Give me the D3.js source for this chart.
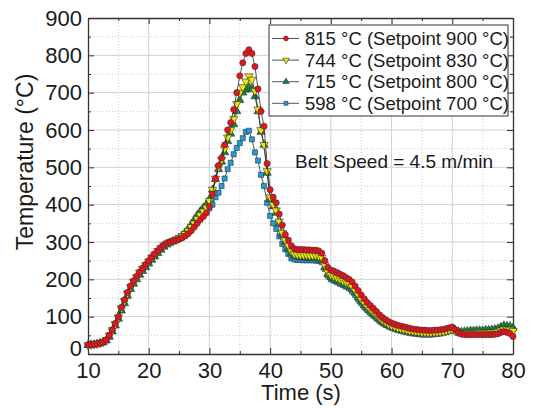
<!DOCTYPE html>
<html>
<head>
<meta charset="utf-8">
<script src="https://cdn.jsdelivr.net/npm/d3@7"></script>
<style>
  body { margin: 0; background: #fff; }
  text { font-family: "Liberation Sans", Arial, sans-serif; fill: #1a1a1a; }
</style>
</head>
<body>
<script>
// sample times (s)
var time = [10,10.5,11,11.5,12,12.5,13,13.5,14,14.5,15,15.5,16,16.5,17,17.5,18,18.5,19,19.5,
  20,20.5,21,21.5,22,22.5,23,23.5,24,24.5,25,25.5,26,26.5,27,27.5,28,28.5,29,29.5,
  30,30.5,31,31.5,32,32.5,33,33.5,34,34.5,35,35.5,36,36.5,37,37.5,38,38.5,39,39.5,
  40,40.5,41,41.5,42,42.5,43,43.5,44,44.5,45,45.5,46,46.5,47,47.5,48,48.5,49,49.5,
  50,50.5,51,51.5,52,52.5,53,53.5,54,54.5,55,55.5,56,56.5,57,57.5,58,58.5,59,59.5,
  60,60.5,61,61.5,62,62.5,63,63.5,64,64.5,65,65.5,66,66.5,67,67.5,68,68.5,69,69.5,
  70,70.5,71,71.5,72,72.5,73,73.5,74,74.5,75,75.5,76,76.5,77,77.5,78,78.5,79,79.5,80];

var t815 = [24,25,26,27,29,32,38,50,65,82,100,125,145,165,182,196,208,220,230,240,
  250,260,268,277,285,292,297,300,303,305,308,311,316,322,330,340,350,360,368,378,
  395,428,470,505,525,560,600,620,655,700,745,780,805,815,805,770,710,650,610,510,
  440,420,405,375,345,320,305,290,282,280,280,280,279,279,278,278,276,270,250,232,
  225,222,218,214,210,205,200,193,182,170,158,148,138,130,122,114,105,98,92,87,
  83,80,77,75,73,71,69,67,66,65,64,64,63,63,64,64,65,66,68,70,
  72,65,58,54,52,52,52,52,52,52,52,52,52,52,53,54,58,60,58,55,47];

var t744 = [24,25,26,27,29,32,38,50,64,80,98,122,142,162,180,194,206,218,228,238,
  248,258,267,276,284,291,296,300,303,306,310,315,322,330,340,350,362,372,382,392,
  410,440,470,500,520,550,580,600,630,670,700,715,730,744,735,705,655,600,560,490,
  420,400,385,355,325,305,290,275,268,266,265,265,265,264,264,264,262,258,238,220,
  212,208,204,200,196,192,188,180,170,158,146,136,127,119,112,105,97,90,85,80,
  76,73,70,68,66,64,62,61,60,59,58,58,57,57,58,58,59,60,62,64,
  66,62,58,56,56,56,56,56,56,57,57,57,57,58,58,60,63,66,66,65,62];

var t715 = [24,25,26,27,29,31,36,46,60,76,94,116,136,156,174,188,200,212,222,232,
  242,252,261,270,279,287,293,298,302,306,311,317,325,335,347,360,372,382,392,400,
  415,440,468,495,515,540,570,590,615,650,680,700,708,715,710,690,650,595,560,485,
  415,395,378,350,320,300,284,270,262,260,259,259,258,258,258,258,256,252,232,214,
  206,202,198,194,190,186,182,174,164,152,141,131,122,114,107,100,93,86,81,77,
  73,70,67,65,63,61,59,58,57,56,55,55,55,55,56,57,58,60,62,65,
  68,64,60,59,60,61,62,62,63,63,63,64,64,65,66,68,72,76,75,74,70];

var t598 = [24,25,26,27,29,32,37,48,62,79,97,120,140,160,178,192,204,216,226,236,
  246,256,265,274,282,290,295,299,302,305,309,314,320,328,337,347,357,366,374,382,
  390,400,420,432,450,470,495,512,535,552,565,578,595,598,575,540,518,480,450,405,
  370,350,335,315,295,280,268,256,253,252,252,251,251,251,251,250,249,246,228,210,
  200,196,192,188,184,180,176,168,158,146,136,126,118,110,103,96,89,83,78,74,
  70,67,64,62,60,58,56,55,54,53,52,52,52,52,53,54,55,57,59,62,
  65,61,57,56,56,57,58,58,59,59,60,60,61,62,63,65,68,70,70,69,66];

var labels = ["815 \u00b0C (Setpoint 900 \u00b0C)", "744 \u00b0C (Setpoint 830 \u00b0C)",
  "715 \u00b0C (Setpoint 800 \u00b0C)", "598 \u00b0C (Setpoint 700 \u00b0C)"];
var colors = ["#e8141c", "#f2e600", "#12873a", "#1a9ee0"];
var shapes = [d3.symbolCircle, d3.symbolTriangle, d3.symbolTriangle, d3.symbolSquare];
var sizes = [30, 30, 30, 26];
var rotations = [0, 180, 0, 0];
var seriesData = [t815, t744, t715, t598];

var xTicks = [10,20,30,40,50,60,70,80];
var xMinor = [15,25,35,45,55,65,75];
var yTicks = [0,100,200,300,400,500,600,700,800,900];
var yMinor = [50,150,250,350,450,550,650,750,850];

var W = 533, H = 408;
var x = d3.scaleLinear().domain([10, 80]).range([88, 513]);
var y = d3.scaleLinear().domain([0, 900]).range([354, 18]);

var svg = d3.select("body").append("svg")
    .attr("width", W)
    .attr("height", H);

// grid
svg.append("g").selectAll("line")
    .data(xMinor).enter().append("line")
    .attr("x1", function (d) { return x(d) }).attr("x2", function (d) { return x(d) })
    .attr("y1", y(0)).attr("y2", y(900))
    .style("stroke", "#bdbdbd").style("stroke-width", 0.8).style("stroke-dasharray", "1,2");
svg.append("g").selectAll("line")
    .data(yMinor).enter().append("line")
    .attr("x1", x(10)).attr("x2", x(80))
    .attr("y1", function (d) { return y(d) }).attr("y2", function (d) { return y(d) })
    .style("stroke", "#bdbdbd").style("stroke-width", 0.8).style("stroke-dasharray", "1,2");
svg.append("g").selectAll("line")
    .data(xTicks.slice(1, -1)).enter().append("line")
    .attr("x1", function (d) { return x(d) }).attr("x2", function (d) { return x(d) })
    .attr("y1", y(0)).attr("y2", y(900))
    .style("stroke", "#d0d0d0").style("stroke-width", 1);
svg.append("g").selectAll("line")
    .data(yTicks.slice(1, -1)).enter().append("line")
    .attr("x1", x(10)).attr("x2", x(80))
    .attr("y1", function (d) { return y(d) }).attr("y2", function (d) { return y(d) })
    .style("stroke", "#d0d0d0").style("stroke-width", 1);

// axes, ticks inward on all four sides
function styleAxis(g) {
    g.selectAll("path").style("stroke", "#333").style("stroke-width", 1.3);
    g.selectAll("line").style("stroke", "#333").style("stroke-width", 1);
    g.selectAll("text").style("font-size", "22px").style("fill", "#1a1a1a")
        .style("font-family", '"Liberation Sans", Arial, sans-serif');
}
svg.append("g").attr("transform", "translate(0," + y(0) + ")")
    .call(d3.axisBottom(x).tickValues(xMinor).tickSize(-3).tickFormat(""))
    .call(styleAxis).select("path").remove();
svg.append("g").attr("transform", "translate(0," + y(900) + ")")
    .call(d3.axisTop(x).tickValues(xMinor).tickSize(-3).tickFormat(""))
    .call(styleAxis).select("path").remove();
svg.append("g").attr("transform", "translate(" + x(10) + ",0)")
    .call(d3.axisLeft(y).tickValues(yMinor).tickSize(-3).tickFormat(""))
    .call(styleAxis).select("path").remove();
svg.append("g").attr("transform", "translate(" + x(80) + ",0)")
    .call(d3.axisRight(y).tickValues(yMinor).tickSize(-3).tickFormat(""))
    .call(styleAxis).select("path").remove();

svg.append("g").attr("transform", "translate(0," + y(0) + ")")
    .call(d3.axisBottom(x).tickValues(xTicks).tickSizeInner(-6).tickSizeOuter(0).tickPadding(8))
    .call(styleAxis);
svg.append("g").attr("transform", "translate(0," + y(900) + ")")
    .call(d3.axisTop(x).tickValues(xTicks).tickSizeInner(-6).tickSizeOuter(0).tickFormat(""))
    .call(styleAxis);
var yAxisG = svg.append("g").attr("transform", "translate(" + x(10) + ",0)")
    .call(d3.axisLeft(y).tickValues(yTicks).tickSizeInner(-6).tickSizeOuter(0).tickPadding(6))
    .call(styleAxis);
// the "0" label sits a little above its tick, clear of the "10" below it
yAxisG.selectAll(".tick text").filter(function (d) { return d === 0 }).attr("dy", "0.05em");
svg.append("g").attr("transform", "translate(" + x(80) + ",0)")
    .call(d3.axisRight(y).tickValues(yTicks).tickSizeInner(-6).tickSizeOuter(0).tickFormat(""))
    .call(styleAxis);

// series, drawn back to front
var line = d3.line()
    .x(function (d) { return x(d[0]) })
    .y(function (d) { return y(d[1]) });

[3, 2, 1, 0].forEach(function (k) {
    var pts = time.map(function (t, i) { return [t, seriesData[k][i]] });
    var g = svg.append("g");
    g.append("path")
        .datum(pts)
        .attr("d", line)
        .style("fill", "none")
        .style("stroke", "#2a2a2a")
        .style("stroke-width", 0.8);
    g.selectAll("path.m")
        .data(pts).enter().append("path")
        .attr("class", "m")
        .attr("d", d3.symbol().type(shapes[k]).size(sizes[k]))
        .attr("transform", function (d) {
            return "translate(" + x(d[0]) + "," + y(d[1]) + ") rotate(" + rotations[k] + ")"
        })
        .style("fill", colors[k])
        .style("stroke", "#333")
        .style("stroke-width", 0.6);
});

// legend
var lg = svg.append("g");
lg.append("rect")
    .attr("x", 269).attr("y", 25)
    .attr("width", 239).attr("height", 91)
    .style("fill", "#fff")
    .style("stroke", "#333")
    .style("stroke-width", 1);
var legends = lg.selectAll("g.item")
    .data(labels).enter().append("g")
    .attr("class", "item")
    .attr("transform", function (d, i) { return "translate(0," + (38.5 + i * 21.6) + ")" });
legends.append("line")
    .attr("x1", 272).attr("x2", 299)
    .attr("y1", 0).attr("y2", 0)
    .style("stroke", "#2a2a2a").style("stroke-width", 0.8);
legends.append("path")
    .attr("d", function (d, i) { return d3.symbol().type(shapes[i]).size(sizes[i] * 0.6)() })
    .attr("transform", function (d, i) { return "translate(286,0) rotate(" + rotations[i] + ")" })
    .style("fill", function (d, i) { return colors[i] })
    .style("stroke", "#333")
    .style("stroke-width", 0.6);
legends.append("text")
    .attr("x", 305)
    .attr("y", 0)
    .attr("dy", ".35em")
    .text(function (d) { return d })
    .style("font-size", "18.5px");

// annotation
svg.append("text")
    .attr("x", 295).attr("y", 168)
    .text("Belt Speed = 4.5 m/min")
    .style("font-size", "19px");

// axis titles
svg.append("text")
    .attr("x", 301).attr("y", 400)
    .style("text-anchor", "middle")
    .style("font-size", "22px")
    .text("Time (s)");
svg.append("text")
    .attr("transform", "translate(33,162) rotate(-90)")
    .style("text-anchor", "middle")
    .style("font-size", "23px")
    .text("Temperature (\u00b0C)");
</script>
</body>
</html>
